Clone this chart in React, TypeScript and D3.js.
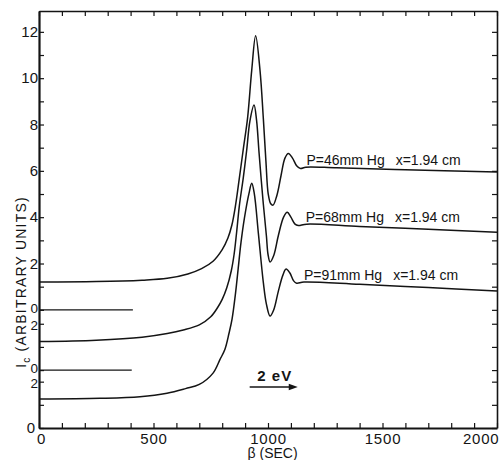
import { useEffect, useRef } from 'react';
import * as d3 from 'd3';

// [beta (sec), intensity in the curve's own units]
const curveP46: [number, number][] = [
    [0, 1.2], [250, 1.22], [450, 1.28], [560, 1.36], [650, 1.55], [710, 1.78], [760, 2.1],
    [800, 2.6], [825, 3.1], [842, 3.65], [858, 4.5], [875, 5.7], [893, 7.0], [911, 8.3], [929, 10.35],
    [946, 11.83], [965, 10.35], [980, 8.2], [991, 6.4], [1001, 5.0], [1012, 4.58], [1022, 4.52],
    [1039, 4.95], [1057, 5.8], [1074, 6.55], [1089, 6.75], [1107, 6.55], [1125, 6.22], [1142, 6.1],
    [1165, 6.16], [1300, 6.13], [1600, 6.05], [2000, 5.95],
];

const curveP68: [number, number][] = [
    [0, 1.23], [250, 1.29], [450, 1.42], [560, 1.58], [630, 1.73], [700, 1.95], [750, 2.3],
    [780, 2.7], [800, 3.05], [820, 3.55], [840, 4.3], [852, 5.0], [863, 5.95], [875, 7.1],
    [892, 8.3], [907, 9.5], [921, 10.75], [939, 11.44], [950, 10.79], [961, 9.37], [978, 7.34],
    [993, 5.8], [1000, 5.0], [1009, 4.67], [1025, 4.95], [1045, 5.8], [1068, 6.6], [1084, 6.81],
    [1100, 6.6], [1118, 6.3], [1132, 6.24], [1169, 6.3], [1400, 6.2], [1700, 6.08], [2000, 5.95],
];

const curveP91: [number, number][] = [
    [0, 1.25], [266, 1.28], [441, 1.35], [559, 1.5], [640, 1.7], [700, 1.88], [760, 2.37],
    [790, 2.95], [812, 3.4], [830, 4.1], [843, 4.7], [858, 5.8], [870, 6.9], [882, 8.0],
    [897, 9.06], [917, 10.13], [929, 10.56], [940, 10.13], [958, 8.4], [980, 6.25], [993, 5.35],
    [1009, 4.83], [1025, 5.1], [1045, 5.9], [1065, 6.6], [1079, 6.86], [1095, 6.7], [1112, 6.35],
    [1125, 6.25], [1157, 6.3], [1400, 6.2], [1700, 6.06], [2000, 5.91],
];

const pressureLabels = ['P=46mm Hg', 'P=68mm Hg', 'P=91mm Hg'];
const distanceLabel = 'x=1.94 cm';
const labelStartBeta = [1168, 1165, 1157];

// each curve sits on its own zero, stacked on one global scale
const curveOffsets = [5.1, 2.5, 0];
const zeroMarkEnd = [410, 405];

const xTickLabels = [0, 500, 1000, 1500, 2000];
const topScaleTicks = [0, 1, 2, 3, 4, 5, 6, 7, 8, 9, 10, 11, 12];
const topScaleLabels = [0, 2, 4, 6, 8, 10, 12];
const lowerScaleTicks = [0, 1, 2];
const lowerScaleLabels = [0, 2];

const FONT = 'Liberation Sans, Arial, Helvetica, sans-serif';
const INK = '#141414';

function valueAt(pts: [number, number][], b: number) {
    for (let i = 1; i < pts.length; i++) {
        if (pts[i][0] >= b) {
            const [b0, v0] = pts[i - 1];
            const [b1, v1] = pts[i];
            return v0 + ((b - b0) / (b1 - b0)) * (v1 - v0);
        }
    }
    return pts[pts.length - 1][1];
}

export default function App() {
    const ref = useRef<SVGSVGElement>(null);

    useEffect(() => {
        if (!ref.current) return;
        const svg = d3.select(ref.current);
        svg.selectAll('*').remove();

        const width = 502;
        const height = 460;
        const margin = { top: 11, right: 5, bottom: 32, left: 39 };

        const x = d3.scaleLinear().domain([0, 2000]).range([margin.left, width - margin.right]);
        const y = d3.scaleLinear().domain([0, 18]).range([height - margin.bottom, margin.top]);

        svg.append('rect').attr('width', width).attr('height', height).attr('fill', '#fff');

        // tick positions on the stacked scales; labels remember which scale they belong to
        const yTicks: number[] = [];
        const yLabels: { v: number; text: string; scale: number; value: number }[] = [];
        topScaleTicks.forEach(t => yTicks.push(curveOffsets[0] + t));
        topScaleLabels.forEach(t => yLabels.push({ v: curveOffsets[0] + t, text: String(t), scale: 0, value: t }));
        [1, 2].forEach(k => {
            lowerScaleTicks.forEach(t => yTicks.push(curveOffsets[k] + t));
            lowerScaleLabels.forEach(t => yLabels.push({ v: curveOffsets[k] + t, text: String(t), scale: k, value: t }));
        });

        const betaTicks = d3.range(0, 2001, 100);

        const styleAxis = (g: d3.Selection<SVGGElement, unknown, null, undefined>, w: number) => {
            g.attr('font-family', FONT).attr('font-size', 14);
            g.select('.domain').attr('stroke', INK).attr('stroke-width', w);
            g.selectAll('.tick line').attr('stroke', INK).attr('stroke-width', 1.2);
            g.selectAll('.tick text').attr('fill', INK);
        };

        // Axes (ticks point inward)
        const gx = svg.append('g')
            .attr('transform', `translate(0,${y(0)})`)
            .call(d3.axisBottom(x).tickValues(betaTicks).tickSize(-5).tickSizeOuter(0).tickPadding(5)
                .tickFormat(d => (xTickLabels.includes(+d) ? String(d) : '')));
        styleAxis(gx, 2.2);
        gx.selectAll<SVGTextElement, number>('.tick text')
            .attr('font-size', 15)
            .attr('letter-spacing', 0.8)
            .attr('text-anchor', d => (d === 2000 ? 'end' : 'middle'))
            .attr('dx', d => (d === 2000 ? 2 : d === 0 ? 2 : 0));

        const gt = svg.append('g')
            .attr('transform', `translate(0,${y(18)})`)
            .call(d3.axisTop(x).tickValues(betaTicks).tickSize(-5).tickSizeOuter(0).tickFormat(() => ''));
        styleAxis(gt, 1.6);

        const gl = svg.append('g')
            .attr('transform', `translate(${x(0)},0)`)
            .call(d3.axisLeft(y).tickValues(yTicks).tickSize(-5).tickSizeOuter(0).tickFormat(() => ''));
        styleAxis(gl, 2.2);

        const gr = svg.append('g')
            .attr('transform', `translate(${x(2000)},0)`)
            .call(d3.axisRight(y).tickValues(yTicks).tickSize(-5).tickSizeOuter(0).tickFormat(() => ''));
        styleAxis(gr, 1.6);

        // Left labels: the stacked "0" over "2" pairs are packed tight, as on the original
        svg.append('g')
            .selectAll('text')
            .data(yLabels)
            .enter()
            .append('text')
            .attr('x', d => (d.v === 0 ? x(0) - 4 : x(0) - 1))
            .attr('y', d => {
                let shift = 0;
                if (d.scale === 0 && d.value === 0) shift = -1.5;
                if (d.scale === 1 && d.value === 0) shift = -1.5;
                if (d.scale === 1 && d.value === 2) shift = 1.5;
                if (d.scale === 2 && d.value === 2) shift = 1.5;
                return y(d.v) + shift;
            })
            .attr('dy', '0.35em')
            .attr('text-anchor', 'end')
            .attr('font-family', FONT)
            .attr('font-size', d => (d.v > 0 && d.v < 5.5 ? 13.5 : 15))
            .attr('fill', INK)
            .text(d => d.text);

        // Short zero markers for the two raised curves
        zeroMarkEnd.forEach((end, i) => {
            svg.append('line')
                .attr('x1', x(0)).attr('x2', x(end))
                .attr('y1', y(curveOffsets[i])).attr('y2', y(curveOffsets[i]))
                .attr('stroke', INK).attr('stroke-width', 1.2);
        });

        // Curves
        const curves = [curveP46, curveP68, curveP91];
        curves.forEach((pts, i) => {
            const off = curveOffsets[i];
            const line = d3.line<[number, number]>()
                .x(d => x(d[0]))
                .y(d => y(d[1] + off))
                .curve(d3.curveCatmullRom.alpha(0.5));
            svg.append('path')
                .attr('d', line(pts))
                .attr('fill', 'none')
                .attr('stroke', INK)
                .attr('stroke-width', 1.5);

            const b = labelStartBeta[i];
            const t = svg.append('text')
                .attr('x', x(b))
                .attr('y', y(valueAt(pts, b) + off) - 2)
                .attr('font-family', FONT)
                .attr('font-size', 14)
                .attr('fill', INK);
            t.append('tspan').text(pressureLabels[i]);
            t.append('tspan').attr('dx', 11).text(distanceLabel);
        });

        // 2 eV scale arrow
        const arrow = { from: 920, to: 1130, level: 1.77 };
        const ay = y(arrow.level);
        svg.append('line')
            .attr('x1', x(arrow.from)).attr('x2', x(arrow.to) - 6)
            .attr('y1', ay).attr('y2', ay)
            .attr('stroke', INK).attr('stroke-width', 1.5);
        svg.append('path')
            .attr('d', `M${x(arrow.to)},${ay}L${x(arrow.to) - 9},${ay - 3.2}L${x(arrow.to) - 9},${ay + 3.2}Z`)
            .attr('fill', INK);
        svg.append('text')
            .attr('x', x((arrow.from + arrow.to) / 2) + 1)
            .attr('y', ay - 6)
            .attr('text-anchor', 'middle')
            .attr('font-family', FONT)
            .attr('font-size', 15)
            .attr('font-weight', 'bold')
            .attr('letter-spacing', 1)
            .attr('fill', INK)
            .text('2 eV');

        // Axis titles
        svg.append('text')
            .attr('x', x(1020))
            .attr('y', 458)
            .attr('text-anchor', 'middle')
            .attr('font-family', FONT)
            .attr('font-size', 14)
            .attr('fill', INK)
            .text('β (SEC)');

        const yt = svg.append('text')
            .attr('transform', 'translate(26,282) rotate(-90)')
            .attr('text-anchor', 'middle')
            .attr('font-family', FONT)
            .attr('font-size', 14)
            .attr('letter-spacing', 1.2)
            .attr('fill', INK);
        yt.append('tspan').text('I');
        yt.append('tspan').attr('font-size', 10).attr('dy', 4).text('c');
        yt.append('tspan').attr('dy', -4).text(' (ARBITRARY UNITS)');
    }, []);

    return (
        <svg
            ref={ref}
            width={502}
            height={460}
            style={{ position: 'absolute', left: 0, top: 0, display: 'block' }}
        />
    );
}
